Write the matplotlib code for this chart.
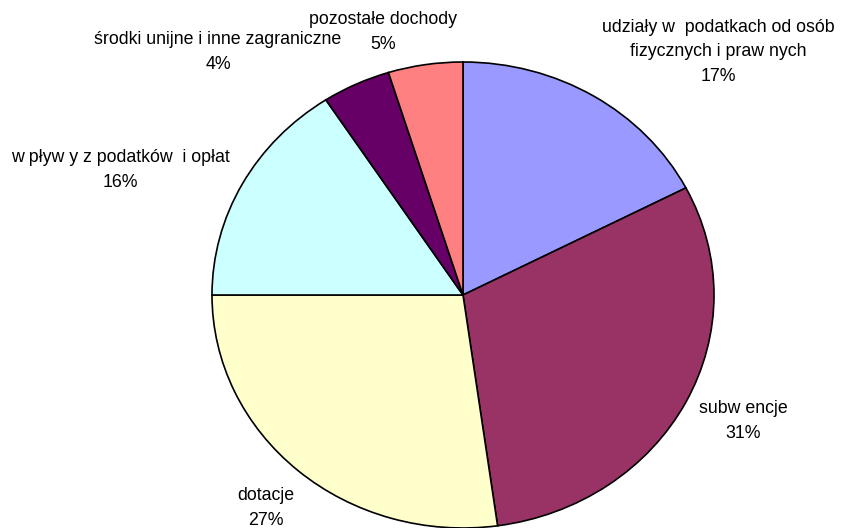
import matplotlib
matplotlib.use('Agg')
from matplotlib import pyplot as plt

plt.rcParams['font.family'] = ['Liberation Sans', 'DejaVu Sans']

# slices clockwise from 12 o'clock
names = ['udziały w  podatkach od osób\nfizycznych i praw nych',
         'subw encje',
         'dotacje',
         'w pływ y z podatków  i opłat',
         'środki unijne i inne zagraniczne',
         'pozostałe dochody']
shares = [17.4, 30.4, 27.2, 15.8, 4.4, 4.8]
pct_labels = ['17%', '31%', '27%', '16%', '4%', '5%']
colors = ['#9999FF', '#993366', '#FFFFCC', '#CCFFFF', '#660066', '#FF8080']

# label centres in pixels (x, y from top)
label_px = [(718, 52), (743, 421), (266, 508), (120, 170), (218, 52), (383, 32)]

W, H = 842, 528
fig = plt.figure(figsize=(W / 100, H / 100), dpi=100)
# pie box: centre (463, 295), rx 251, ry 233
ax = fig.add_axes([212 / W, (H - 528) / H, 502 / W, 466 / H])
ax.pie(shares, colors=colors, startangle=90, counterclock=False,
       wedgeprops=dict(edgecolor='black', linewidth=1.2))
ax.set_aspect('auto')
ax.set_xlim(-1, 1)
ax.set_ylim(-1, 1)
ax.axis('off')

line_h = 24.5
for name, pct, (px, py) in zip(names, pct_labels, label_px):
    lines = name.split('\n') + [pct]
    top = py - line_h * (len(lines) - 1) / 2
    for i, s in enumerate(lines):
        fig.text(px / W, 1 - (top + i * line_h) / H, s, ha='center', va='center',
                 fontsize=12.8, color='black')

plt.savefig('out.png', dpi=100)
